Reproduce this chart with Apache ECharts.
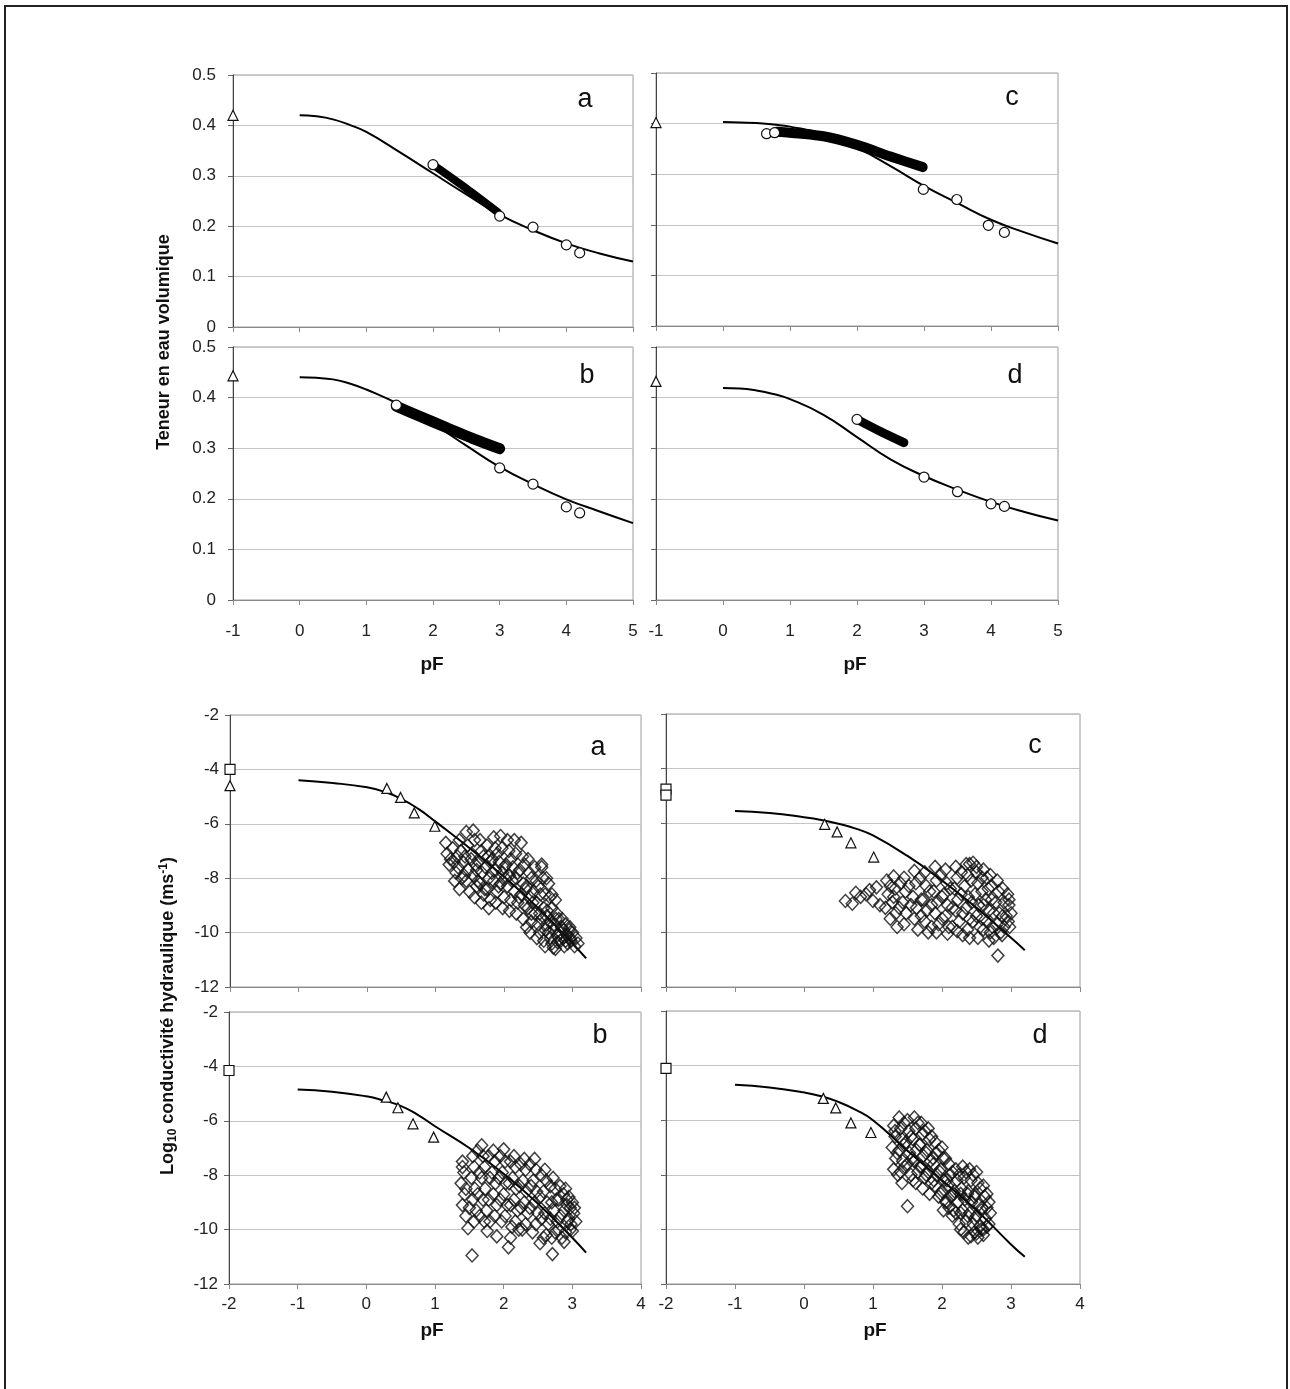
<!DOCTYPE html>
<html>
<head>
<meta charset="utf-8">
<script src="https://cdn.jsdelivr.net/npm/echarts@6/dist/echarts.min.js"></script>
<style>
html,body{margin:0;padding:0;background:#fff;}
#chart{width:1290px;height:1389px;}
</style>
</head>
<body>
<div id="chart"></div>
<script>
// ---------- Top panels: water content vs pF ----------
const pfTop = [0, 0.25, 0.5, 0.75, 1, 1.5, 2, 2.5, 3, 3.5, 4, 4.5, 5];
const thetaFitA = [0.42, 0.418, 0.412, 0.401, 0.387, 0.347, 0.305, 0.263, 0.223, 0.192, 0.166, 0.146, 0.13];
const thetaFitB = [0.44, 0.439, 0.436, 0.428, 0.416, 0.386, 0.348, 0.305, 0.263, 0.229, 0.199, 0.175, 0.152];
const thetaFitC = [0.403, 0.402, 0.401, 0.398, 0.394, 0.379, 0.352, 0.316, 0.277, 0.243, 0.21, 0.185, 0.163];
const thetaFitD = [0.419, 0.418, 0.414, 0.407, 0.397, 0.366, 0.322, 0.278, 0.245, 0.218, 0.194, 0.174, 0.157];

const circA = [[2.0, 0.322], [3.0, 0.22], [3.5, 0.198], [4.0, 0.163], [4.2, 0.147]];
const circB = [[1.45, 0.385], [3.0, 0.261], [3.5, 0.229], [4.0, 0.184], [4.2, 0.172]];
const circC = [[0.65, 0.38], [0.77, 0.382], [2.99, 0.27], [3.49, 0.25], [3.96, 0.199], [4.2, 0.185]];
const circD = [[2.0, 0.357], [3.0, 0.243], [3.5, 0.214], [4.0, 0.19], [4.2, 0.185]];

const bandA = [[2.0, 0.322], [2.5, 0.275], [2.97, 0.228]];
const bandB = [[1.45, 0.383], [1.8, 0.363], [2.2, 0.341], [2.6, 0.319], [3.0, 0.299]];
const bandC = [[0.8, 0.384], [1.5, 0.375], [2.0, 0.358], [2.5, 0.335], [2.98, 0.314]];
const bandD = [[2.0, 0.357], [2.35, 0.333], [2.7, 0.311]];

const triTopA = [[-1, 0.42]];
const triTopB = [[-1, 0.443]];
const triTopC = [[-1, 0.402]];
const triTopD = [[-1, 0.432]];

const xTicksTop = [-1, 0, 1, 2, 3, 4, 5];
const yTicksTop = [0, 0.1, 0.2, 0.3, 0.4, 0.5];

// ---------- Bottom panels: log10 hydraulic conductivity vs pF ----------
const pfBot = [-1, -0.5, 0, 0.25, 0.5, 0.75, 1, 1.5, 2, 2.5, 3, 3.2];
const logKFitA = [-4.4, -4.5, -4.66, -4.82, -5.08, -5.45, -5.92, -6.9, -7.95, -9.1, -10.4, -10.95];
const logKFitB = [-4.85, -4.93, -5.1, -5.25, -5.45, -5.78, -6.2, -7.0, -7.95, -9.05, -10.3, -10.85];
const logKFitC = [-5.55, -5.63, -5.78, -5.88, -6.02, -6.2, -6.45, -7.2, -8.1, -9.1, -10.2, -10.65];
const logKFitD = [-4.7, -4.8, -4.98, -5.12, -5.33, -5.62, -6.0, -7.12, -8.2, -9.3, -10.55, -11.0];

const triBotA = [[-2, -4.6], [0.29, -4.7], [0.49, -5.03], [0.69, -5.6], [0.99, -6.09]];
const triBotB = [[0.29, -5.13], [0.46, -5.52], [0.68, -6.11], [0.98, -6.6]];
const triBotC = [[0.3, -6.04], [0.48, -6.32], [0.68, -6.72], [1.01, -7.24]];
const triBotD = [[0.28, -5.2], [0.46, -5.55], [0.68, -6.1], [0.97, -6.45]];

const sqA = [[-2, -4.0]];
const sqB = [[-2, -4.15]];
const sqC = [[-2, -4.75], [-2, -4.97]];
const sqD = [[-2, -4.1]];

const cloudA = [
 [1.15,-6.7],[1.17,-7.1],[1.2,-7.5],
 [1.25,-6.9],[1.27,-7.4],[1.3,-7.8],[1.28,-8.1],
 [1.35,-6.6],[1.37,-7.0],[1.33,-7.6],[1.38,-8.0],[1.35,-8.4],
 [1.45,-6.3],[1.47,-6.8],[1.43,-7.2],[1.48,-7.7],[1.45,-8.1],[1.5,-8.5],
 [1.55,-6.25],[1.57,-6.6],[1.53,-7.1],[1.58,-7.5],[1.55,-7.9],[1.6,-8.3],[1.57,-8.7],
 [1.65,-6.6],[1.67,-7.0],[1.63,-7.4],[1.68,-7.8],[1.65,-8.2],[1.7,-8.6],[1.67,-8.9],
 [1.75,-6.8],[1.77,-7.2],[1.73,-7.6],[1.78,-8.0],[1.75,-8.4],[1.8,-8.8],[1.78,-9.1],
 [1.85,-6.5],[1.87,-6.9],[1.83,-7.3],[1.88,-7.7],[1.85,-8.1],[1.9,-8.5],[1.88,-8.9],
 [1.95,-6.45],[1.97,-6.9],[1.93,-7.4],[1.98,-7.8],[1.95,-8.2],[2.0,-8.7],[1.98,-9.1],
 [2.05,-6.6],[2.07,-7.0],[2.03,-7.5],[2.08,-7.9],[2.05,-8.3],[2.1,-8.8],[2.08,-9.2],
 [2.15,-6.6],[2.17,-7.1],[2.13,-7.6],[2.18,-8.0],[2.15,-8.5],[2.2,-8.9],[2.18,-9.3],
 [2.25,-6.7],[2.27,-7.2],[2.23,-7.7],[2.28,-8.2],[2.25,-8.6],[2.3,-9.0],[2.28,-9.5],
 [2.35,-7.3],[2.37,-7.8],[2.33,-8.3],[2.38,-8.7],[2.35,-9.1],[2.4,-9.6],[2.38,-10.0],
 [2.45,-7.6],[2.47,-8.1],[2.43,-8.5],[2.48,-8.9],[2.45,-9.3],[2.5,-9.7],[2.48,-10.2],
 [2.55,-7.6],[2.57,-8.0],[2.53,-8.6],[2.58,-9.1],[2.55,-9.5],[2.6,-9.9],[2.58,-10.3],
 [2.65,-8.2],[2.67,-8.7],[2.63,-9.2],[2.68,-9.6],[2.65,-10.0],[2.7,-10.4],
 [2.75,-8.8],[2.77,-9.3],[2.73,-9.7],[2.78,-10.1],[2.75,-10.6],
 [2.85,-9.5],[2.87,-9.9],[2.83,-10.3],[2.88,-10.5],
 [2.95,-9.9],[2.97,-10.2],[2.93,-10.4],
 [3.05,-10.2],[3.03,-10.5],
 [1.22,-7.3],[1.32,-7.2],[1.4,-7.4],[1.42,-7.9],[1.52,-7.3],[1.6,-7.7],[1.62,-8.1],[1.7,-7.2],
 [1.72,-8.4],[1.8,-7.4],[1.82,-7.8],[1.9,-7.1],[1.92,-8.3],[2.0,-7.6],[2.02,-8.0],[2.1,-7.3],
 [2.12,-8.1],[2.2,-7.8],[2.22,-8.7],[2.3,-7.5],[2.32,-8.4],[2.4,-8.0],[2.42,-8.9],[2.5,-8.3],
 [2.52,-9.3],[2.6,-8.6],[2.62,-9.7],[2.7,-9.1],[2.72,-9.9],[2.8,-9.5],[2.82,-10.0],[2.9,-9.7],
 [2.92,-10.1],[3.0,-10.0],[2.98,-10.3],[2.86,-10.2],[2.78,-10.35],[2.68,-10.2],[2.9,-10.3],
 [2.96,-9.8],[2.84,-9.8],[2.76,-9.5],[2.62,-9.4],[2.52,-10.0],[2.4,-9.3],[2.33,-9.8],
 [2.6,-10.5],[2.72,-10.55],[3.08,-10.4],[2.55,-7.5],[2.62,-8.0],[2.7,-8.6]
];

const cloudB = [
 [1.4,-7.5],[1.42,-7.9],[1.38,-8.3],[1.43,-8.7],[1.4,-9.1],[1.45,-9.5],[1.48,-9.95],
 [1.55,-7.3],[1.57,-7.7],[1.53,-8.1],[1.58,-8.5],[1.55,-8.9],[1.6,-9.3],[1.57,-9.7],[1.54,-10.95],
 [1.68,-6.9],[1.7,-7.3],[1.72,-7.7],[1.68,-8.1],[1.73,-8.5],[1.7,-8.9],[1.75,-9.3],[1.72,-9.7],[1.76,-10.05],
 [1.85,-7.1],[1.87,-7.5],[1.83,-7.9],[1.88,-8.3],[1.85,-8.7],[1.9,-9.1],[1.87,-9.5],[1.9,-10.25],
 [2.0,-7.05],[2.02,-7.5],[1.98,-7.9],[2.03,-8.3],[2.0,-8.7],[2.05,-9.1],[2.02,-9.5],[2.07,-10.65],[2.1,-10.3],
 [2.15,-7.3],[2.17,-7.7],[2.13,-8.1],[2.18,-8.5],[2.15,-8.9],[2.2,-9.3],[2.17,-9.7],[2.22,-10.0],
 [2.3,-7.4],[2.32,-7.8],[2.28,-8.2],[2.33,-8.6],[2.3,-9.0],[2.35,-9.4],[2.32,-9.8],
 [2.45,-7.4],[2.47,-7.8],[2.43,-8.2],[2.48,-8.6],[2.45,-9.0],[2.5,-9.4],[2.47,-9.8],[2.53,-10.5],
 [2.6,-7.8],[2.62,-8.2],[2.58,-8.6],[2.63,-9.0],[2.6,-9.4],[2.65,-9.8],[2.62,-10.2],
 [2.72,-8.1],[2.75,-8.5],[2.77,-8.9],[2.73,-9.3],[2.78,-9.7],[2.75,-10.1],[2.71,-10.9],
 [2.9,-8.5],[2.92,-8.9],[2.88,-9.3],[2.93,-9.7],[2.9,-10.1],[2.88,-10.45],
 [3.0,-9.0],[3.02,-9.4],[2.98,-9.8],[3.0,-10.05],
 [1.4,-7.7],[1.45,-8.5],[1.5,-9.2],[1.62,-7.1],[1.65,-7.9],[1.62,-8.7],[1.65,-9.5],[1.78,-7.3],
 [1.8,-8.1],[1.78,-8.9],[1.8,-9.7],[1.95,-7.3],[1.93,-8.1],[1.95,-8.9],[1.97,-9.7],[2.1,-7.5],
 [2.08,-8.3],[2.1,-9.1],[2.12,-9.9],[2.25,-7.6],[2.23,-8.4],[2.25,-9.2],[2.27,-10.0],[2.38,-7.6],
 [2.4,-8.4],[2.38,-9.2],[2.42,-10.1],[2.55,-8.0],[2.53,-8.8],[2.55,-9.6],[2.58,-10.3],[2.68,-8.4],
 [2.7,-9.0],[2.68,-9.6],[2.7,-10.3],[2.82,-8.4],[2.8,-8.9],[2.83,-9.5],[2.8,-10.0],[2.85,-10.3],
 [2.95,-8.8],[2.97,-9.2],[2.95,-9.6],[2.97,-10.0],[3.03,-9.2],[3.05,-9.7],[2.87,-8.7],[2.92,-9.1]
];

const cloudC = [
 [0.6,-8.85],[0.7,-8.95],[0.75,-8.55],[0.82,-8.7],[0.9,-8.6],[0.95,-8.45],[1.05,-8.35],[1.1,-9.0],[1.0,-8.85],
 [1.2,-8.1],[1.22,-8.6],[1.18,-9.1],[1.25,-9.5],
 [1.3,-7.95],[1.32,-8.4],[1.28,-8.9],[1.33,-9.3],[1.35,-9.8],
 [1.45,-8.0],[1.47,-8.5],[1.43,-8.9],[1.48,-9.3],[1.45,-9.7],
 [1.6,-7.75],[1.62,-8.2],[1.58,-8.7],[1.63,-9.1],[1.6,-9.5],[1.65,-9.9],
 [1.75,-7.8],[1.77,-8.3],[1.73,-8.8],[1.78,-9.2],[1.75,-9.6],[1.8,-10.0],
 [1.9,-7.6],[1.92,-8.1],[1.88,-8.5],[1.93,-8.9],[1.9,-9.3],[1.95,-9.7],[1.92,-10.0],
 [2.05,-7.7],[2.07,-8.2],[2.03,-8.6],[2.08,-9.0],[2.05,-9.4],[2.1,-9.8],[2.08,-10.05],
 [2.2,-7.6],[2.22,-8.0],[2.18,-8.4],[2.23,-8.8],[2.2,-9.2],[2.25,-9.6],[2.22,-9.95],
 [2.35,-7.5],[2.37,-7.9],[2.33,-8.3],[2.38,-8.7],[2.35,-9.1],[2.4,-9.5],[2.37,-9.9],[2.4,-10.2],
 [2.45,-7.45],[2.5,-7.8],[2.52,-8.2],[2.48,-8.6],[2.53,-9.0],[2.5,-9.4],[2.55,-9.8],[2.52,-10.2],
 [2.6,-7.7],[2.65,-8.0],[2.67,-8.4],[2.63,-8.8],[2.68,-9.2],[2.65,-9.6],[2.7,-10.0],[2.68,-10.3],
 [2.8,-8.1],[2.82,-8.5],[2.78,-8.9],[2.83,-9.3],[2.8,-9.7],[2.85,-10.0],[2.81,-10.85],
 [2.95,-8.6],[2.97,-9.0],[2.93,-9.4],[2.98,-9.8],
 [1.25,-8.3],[1.3,-8.7],[1.38,-9.1],[1.4,-8.2],[1.52,-8.3],[1.55,-9.0],[1.68,-8.0],[1.7,-8.8],
 [1.7,-9.4],[1.82,-8.5],[1.85,-9.0],[1.85,-9.8],[1.98,-7.9],[2.0,-8.7],[2.0,-9.5],[2.12,-8.4],
 [2.15,-9.1],[2.15,-9.8],[2.28,-7.8],[2.28,-8.6],[2.3,-9.3],[2.3,-10.1],[2.42,-8.1],[2.43,-8.9],
 [2.45,-9.6],[2.58,-8.0],[2.58,-8.5],[2.6,-9.0],[2.58,-9.5],[2.6,-9.9],[2.72,-8.3],[2.72,-8.8],
 [2.75,-9.3],[2.73,-9.8],[2.75,-10.2],[2.88,-8.4],[2.9,-8.9],[2.88,-9.4],[2.9,-9.8],[2.87,-10.1],
 [2.97,-8.8],[3.0,-9.3],[2.96,-9.6],[2.5,-7.6],[2.4,-7.5],[2.7,-7.9]
];

const cloudD = [
 [1.3,-6.2],[1.32,-6.6],[1.28,-7.0],[1.33,-7.4],[1.3,-7.8],
 [1.38,-5.9],[1.4,-6.3],[1.42,-6.7],[1.38,-7.1],[1.43,-7.5],[1.4,-7.9],[1.42,-8.3],
 [1.5,-6.0],[1.52,-6.4],[1.48,-6.8],[1.53,-7.2],[1.5,-7.6],[1.55,-8.0],[1.5,-9.15],
 [1.6,-5.9],[1.62,-6.3],[1.58,-6.7],[1.63,-7.1],[1.6,-7.5],[1.65,-7.9],[1.62,-8.3],
 [1.7,-6.1],[1.72,-6.5],[1.68,-6.9],[1.73,-7.3],[1.7,-7.7],[1.75,-8.1],[1.72,-8.5],
 [1.8,-6.3],[1.82,-6.7],[1.78,-7.1],[1.83,-7.5],[1.8,-7.9],[1.85,-8.3],[1.82,-8.7],
 [1.9,-6.8],[1.92,-7.2],[1.88,-7.6],[1.93,-8.0],[1.9,-8.4],[1.95,-8.8],
 [2.0,-7.0],[2.02,-7.4],[1.98,-7.8],[2.03,-8.2],[2.0,-8.6],[2.05,-9.0],[2.02,-9.3],
 [2.1,-7.6],[2.12,-8.0],[2.08,-8.4],[2.13,-8.8],[2.1,-9.2],[2.15,-9.5],
 [2.2,-7.8],[2.22,-8.2],[2.18,-8.6],[2.23,-9.0],[2.2,-9.4],[2.25,-9.8],
 [2.3,-7.7],[2.32,-8.1],[2.28,-8.5],[2.33,-8.9],[2.3,-9.3],[2.35,-9.7],[2.32,-10.1],
 [2.4,-7.8],[2.42,-8.2],[2.38,-8.6],[2.43,-9.0],[2.4,-9.4],[2.45,-9.8],[2.42,-10.25],
 [2.5,-7.9],[2.52,-8.3],[2.48,-8.7],[2.53,-9.1],[2.5,-9.5],[2.55,-9.9],[2.52,-10.3],
 [2.6,-8.4],[2.62,-8.8],[2.58,-9.2],[2.63,-9.6],[2.6,-10.0],
 [2.68,-9.0],[2.7,-9.4],[2.68,-9.8],
 [1.32,-6.4],[1.35,-7.2],[1.36,-8.0],[1.45,-6.1],[1.45,-6.9],[1.46,-7.7],[1.55,-6.6],[1.57,-7.4],
 [1.58,-8.2],[1.65,-6.1],[1.67,-6.9],[1.68,-7.7],[1.75,-6.4],[1.77,-7.2],[1.77,-8.0],[1.85,-6.6],
 [1.87,-7.4],[1.88,-8.2],[1.95,-7.1],[1.97,-7.9],[1.98,-8.7],[2.05,-7.4],[2.07,-8.2],[2.07,-9.0],
 [2.15,-7.9],[2.17,-8.7],[2.17,-9.3],[2.25,-8.0],[2.27,-8.7],[2.27,-9.4],[2.27,-10.0],[2.35,-7.9],
 [2.37,-8.7],[2.37,-9.5],[2.38,-10.3],[2.45,-8.0],[2.47,-8.8],[2.47,-9.6],[2.47,-10.1],[2.55,-8.5],
 [2.57,-9.3],[2.57,-10.0],[2.65,-8.7],[2.65,-9.2],[2.65,-9.9],[2.5,-10.15],[2.6,-10.2]
];

const xTicksBot = [-2, -1, 0, 1, 2, 3, 4];
const yTicksBot = [-12, -10, -8, -6, -4, -2];

const panelLetters = ['a', 'c', 'b', 'd', 'a', 'c', 'b', 'd'];
const yTitleTop = 'Teneur en eau volumique';
const xTitle = 'pF';

// ---------- build ----------
const FONT = '"Liberation Sans", Arial, Helvetica, sans-serif';
const chart = echarts.init(document.getElementById('chart'), null, {renderer: 'canvas'});

const grids = [
  {left: 233, top: 75, width: 400, height: 252},
  {left: 656, top: 73, width: 402, height: 253},
  {left: 233, top: 347, width: 400, height: 253},
  {left: 656, top: 347, width: 402, height: 253},
  {left: 230, top: 715, width: 411, height: 272},
  {left: 666, top: 714, width: 414, height: 273},
  {left: 229, top: 1012, width: 412, height: 272},
  {left: 666, top: 1011, width: 414, height: 273}
].map(g => Object.assign(g, {show: true, borderColor: '#9a9a9a', borderWidth: 1, backgroundColor: '#fff'}));

const xAxes = [], yAxes = [];
for (let i = 0; i < 8; i++) {
  const top = i < 4;
  const xt = top ? xTicksTop : xTicksBot;
  const yt = top ? yTicksTop : yTicksBot;
  const showX = (i === 2 || i === 3 || i >= 6);
  const showY = (i % 2 === 0);
  xAxes.push({
    type: 'value', gridIndex: i, min: xt[0], max: xt[xt.length - 1], interval: 1,
    axisLine: {show: true, onZero: false, lineStyle: {color: '#8a8a8a', width: 1}},
    axisTick: {show: true, length: 5, lineStyle: {color: '#8a8a8a'}},
    splitLine: {show: false},
    axisLabel: {show: showX, margin: top ? 23 : 12, fontSize: 17, color: '#222', fontFamily: FONT}
  });
  yAxes.push({
    type: 'value', gridIndex: i, min: yt[0], max: yt[yt.length - 1], interval: top ? 0.1 : 2,
    axisLine: {show: true, onZero: false, lineStyle: {color: '#444', width: 1}},
    axisTick: {show: true, length: 5, lineStyle: {color: '#666'}},
    splitLine: {show: true, lineStyle: {color: '#c4c4c4', width: 1}},
    axisLabel: {show: showY, margin: top ? 17 : 11, fontSize: 17, color: '#222', fontFamily: FONT,
      formatter: v => top ? String(Math.round(v * 10) / 10) : String(v)}
  });
}

const series = [];
function fitLine(i, xs, ys) {
  series.push({type: 'line', xAxisIndex: i, yAxisIndex: i, smooth: 0.5, showSymbol: false, silent: true,
    data: xs.map((x, k) => [x, ys[k]]), lineStyle: {color: '#000', width: 2}, z: 3, clip: false});
}
function band(i, pts, w) {
  series.push({type: 'line', xAxisIndex: i, yAxisIndex: i, smooth: 0.3, showSymbol: false, silent: true,
    data: pts, lineStyle: {color: '#000', width: w, cap: 'round', join: 'round'}, z: 2, clip: false});
}
function marks(i, pts, sym, size) {
  series.push({type: 'scatter', xAxisIndex: i, yAxisIndex: i, symbol: sym, symbolSize: size, silent: true,
    data: pts, clip: false, z: 10,
    itemStyle: {color: '#ffffff', opacity: 1, borderColor: '#111', borderWidth: 1.2}});
}
function cloud(i, pts) {
  series.push({type: 'scatter', xAxisIndex: i, yAxisIndex: i, symbol: 'diamond', symbolSize: [12, 13], silent: true,
    data: pts, clip: false, z: 4, large: false,
    itemStyle: {color: 'rgba(255,255,255,0)', borderColor: '#111', borderWidth: 1.5}});
}

// top panels
fitLine(0, pfTop, thetaFitA); band(0, bandA, 8); marks(0, circA, 'circle', 10); marks(0, triTopA, 'triangle', 10);
fitLine(1, pfTop, thetaFitC); band(1, bandC, 10); marks(1, circC, 'circle', 10); marks(1, triTopC, 'triangle', 10);
fitLine(2, pfTop, thetaFitB); band(2, bandB, 11); marks(2, circB, 'circle', 10); marks(2, triTopB, 'triangle', 10);
fitLine(3, pfTop, thetaFitD); band(3, bandD, 9); marks(3, circD, 'circle', 10); marks(3, triTopD, 'triangle', 10);
// bottom panels
fitLine(4, pfBot, logKFitA); cloud(4, cloudA); marks(4, triBotA, 'triangle', 10); marks(4, sqA, 'rect', 10);
fitLine(5, pfBot, logKFitC); cloud(5, cloudC); marks(5, triBotC, 'triangle', 10); marks(5, sqC, 'rect', 10);
fitLine(6, pfBot, logKFitB); cloud(6, cloudB); marks(6, triBotB, 'triangle', 10); marks(6, sqB, 'rect', 10);
fitLine(7, pfBot, logKFitD); cloud(7, cloudD); marks(7, triBotD, 'triangle', 10); marks(7, sqD, 'rect', 10);

const letterPos = [[585, 100], [1012, 98], [587, 376], [1015, 376], [598, 748], [1035, 746], [600, 1036], [1040, 1036]];
const graphic = [
  {type: 'rect', shape: {x: 5, y: 6, width: 1282, height: 1420}, style: {fill: 'none', stroke: '#222', lineWidth: 2}, z: 0, silent: true}
];
letterPos.forEach((p, k) => graphic.push({type: 'text', x: p[0], y: p[1], z: 100,
  style: {text: panelLetters[k], font: '27px ' + FONT, fill: '#111', textAlign: 'center', textVerticalAlign: 'middle'}}));
[[432, 665], [855, 665], [432, 1331], [875, 1331]].forEach(p => graphic.push({type: 'text', x: p[0], y: p[1], z: 100,
  style: {text: xTitle, font: 'bold 19px ' + FONT, fill: '#111', textAlign: 'center', textVerticalAlign: 'middle'}}));
graphic.push({type: 'text', x: 164, y: 342, rotation: Math.PI / 2, z: 100,
  style: {text: yTitleTop, font: 'bold 18px ' + FONT, fill: '#111', textAlign: 'center', textVerticalAlign: 'middle'}});
graphic.push({type: 'text', x: 168, y: 1016, rotation: Math.PI / 2, z: 100,
  style: {
    text: '{a|Log}{s|10}{a| conductivité hydraulique (ms}{p|-1}{a|)}',
    textAlign: 'center', textVerticalAlign: 'middle',
    rich: {
      a: {font: 'bold 18px ' + FONT, fill: '#111', lineHeight: 26, verticalAlign: 'middle'},
      s: {font: 'bold 12px ' + FONT, fill: '#111', lineHeight: 26, verticalAlign: 'bottom', padding: [0, 0, 2, 0]},
      p: {font: 'bold 12px ' + FONT, fill: '#111', lineHeight: 26, verticalAlign: 'top', padding: [3, 0, 0, 0]}
    }
  }});

chart.setOption({
  animation: false,
  backgroundColor: '#fff',
  grid: grids,
  xAxis: xAxes,
  yAxis: yAxes,
  series: series,
  graphic: graphic
});
</script>
</body>
</html>
